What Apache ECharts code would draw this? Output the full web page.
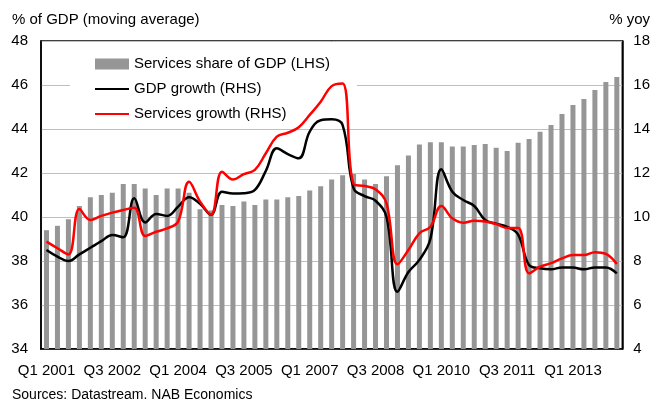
<!DOCTYPE html>
<html><head><meta charset="utf-8">
<script src="https://cdn.jsdelivr.net/npm/echarts@6/dist/echarts.min.js"></script>
<style>html,body{margin:0;padding:0;background:#fff}#c{width:653px;height:401px}</style>
</head><body><div id="c"></div>
<script>
// Quarter labels Q1 2001 .. Q1 2014
const firstYear = 2001;
const quarterCount = 53;
const categories = [];
for (let k = 0; k < quarterCount; k++) {
  categories.push('Q' + (k % 4 + 1) + ' ' + (firstYear + Math.floor(k / 4)));
}

// Services share of GDP (LHS, %)
const servicesShare = [39.4, 39.6, 39.9, 40.5, 40.9, 41.0, 41.1, 41.5, 41.5, 41.3,
  41.0, 41.3, 41.3, 41.1, 40.35, 40.3, 40.55, 40.5, 40.7, 40.55,
  40.8, 40.8, 40.9, 40.95, 41.2, 41.4, 41.7, 41.9, 41.95, 41.7,
  41.5, 41.85, 42.35, 42.8, 43.3, 43.4, 43.4, 43.2, 43.2, 43.27,
  43.32, 43.15, 43.0, 43.38, 43.55, 43.87, 44.18, 44.68, 45.09, 45.36,
  45.77, 46.14, 46.36];

// GDP growth (RHS, % yoy)
const gdpGrowth = [8.5, 8.2, 8.0, 8.3, 8.6, 8.9, 9.18, 9.08, 10.85, 9.75,
  10.14, 10.05, 10.47, 10.9, 10.6, 10.1, 11.15, 11.07, 11.08, 11.23,
  12.1, 13.12, 12.86, 12.67, 13.88, 14.4, 14.44, 14.18, 11.3, 10.95,
  10.74, 10.0, 6.6, 7.5, 8.05, 9.0, 12.17, 11.15, 10.77, 10.5,
  9.86, 9.7, 9.55, 9.2, 7.82, 7.67, 7.62, 7.71, 7.7, 7.62,
  7.71, 7.71, 7.44];

// Services growth (RHS, % yoy)
const servicesGrowth = [8.88, 8.58, 8.3, 10.36, 9.86, 10.05, 10.2, 10.32, 10.42, 9.14,
  9.33, 9.48, 9.79, 11.6, 10.7, 10.1, 12.06, 11.7, 11.95, 12.14,
  12.9, 13.65, 13.83, 14.08, 14.64, 15.24, 15.95, 16.07, 11.5, 11.41,
  11.26, 10.62, 7.85, 8.5, 9.26, 9.56, 10.5, 9.94, 9.74, 9.83,
  9.8, 9.68, 9.5, 9.5, 7.44, 7.74, 7.9, 8.12, 8.27, 8.27,
  8.4, 8.32, 7.86];

const leftAxisRange = [34, 48];
const rightAxisRange = [4, 18];
const tickStep = 2;

const seriesNames = ['Services share of GDP (LHS)', 'GDP growth (RHS)', 'Services growth (RHS)'];
const FONT = 'Liberation Sans, Arial, sans-serif';

const chart = echarts.init(document.getElementById('c'), null, {renderer: 'canvas'});
chart.setOption({
  animation: false,
  backgroundColor: '#fff',
  textStyle: {fontFamily: FONT, color: '#000'},
  title: [
    {text: '% of GDP (moving average)', left: 12, top: 12, padding: 0,
     textStyle: {fontFamily: FONT, fontSize: 15, fontWeight: 'normal', color: '#000'}},
    {text: '% yoy', right: 3, top: 12, padding: 0,
     textStyle: {fontFamily: FONT, fontSize: 15, fontWeight: 'normal', color: '#000'}},
    {text: 'Sources: Datastream. NAB Economics', left: 12, top: 388, padding: 0,
     textStyle: {fontFamily: FONT, fontSize: 14, fontWeight: 'normal', color: '#000'}}
  ],
  legend: {
    orient: 'vertical', left: 70, top: 46, z: 1,
    padding: [9, 27, 5, 24], itemGap: 7,
    backgroundColor: '#fff',
    itemWidth: 34, itemHeight: 11,
    textStyle: {fontFamily: FONT, fontSize: 15, color: '#000', lineHeight: 18},
    data: [
      {name: seriesNames[0], icon: 'rect'},
      {name: seriesNames[1], itemStyle: {opacity: 0}},
      {name: seriesNames[2], itemStyle: {opacity: 0}}
    ]
  },
  grid: {left: 41, right: 29, top: 41, bottom: 52, show: true,
         borderColor: '#000', borderWidth: 1.5, backgroundColor: 'transparent'},
  xAxis: {
    type: 'category', data: categories, boundaryGap: true,
    axisLine: {show: true, lineStyle: {color: '#000', width: 1.5}},
    axisTick: {show: false},
    axisLabel: {interval: 5, margin: 14, fontFamily: FONT, fontSize: 15, color: '#000'},
    splitLine: {show: false}
  },
  yAxis: [
    {type: 'value', min: leftAxisRange[0], max: leftAxisRange[1], interval: tickStep,
     axisLine: {show: true, lineStyle: {color: '#000', width: 1.5}},
     axisTick: {show: false},
     axisLabel: {margin: 13, fontFamily: FONT, fontSize: 15, color: '#000'},
     splitLine: {show: true, lineStyle: {color: '#bfbfbf', width: 1}}},
    {type: 'value', min: rightAxisRange[0], max: rightAxisRange[1], interval: tickStep,
     position: 'right',
     axisLine: {show: true, lineStyle: {color: '#000', width: 1.5}},
     axisTick: {show: false},
     axisLabel: {margin: 11, fontFamily: FONT, fontSize: 15, color: '#000'},
     splitLine: {show: false}}
  ],
  series: [
    {name: seriesNames[0], type: 'bar', yAxisIndex: 0, data: servicesShare,
     barWidth: 5, itemStyle: {color: '#969696'}, z: 2},
    {name: seriesNames[1], type: 'line', yAxisIndex: 1, data: gdpGrowth,
     smooth: 0.4, symbol: 'none', showSymbol: false,
     lineStyle: {color: '#000', width: 2.5}, itemStyle: {color: '#000'}, z: 3},
    {name: seriesNames[2], type: 'line', yAxisIndex: 1, data: servicesGrowth,
     smooth: 0.4, symbol: 'none', showSymbol: false,
     lineStyle: {color: '#ff0000', width: 2.5}, itemStyle: {color: '#ff0000'}, z: 4}
  ]
});
</script>
</body></html>
